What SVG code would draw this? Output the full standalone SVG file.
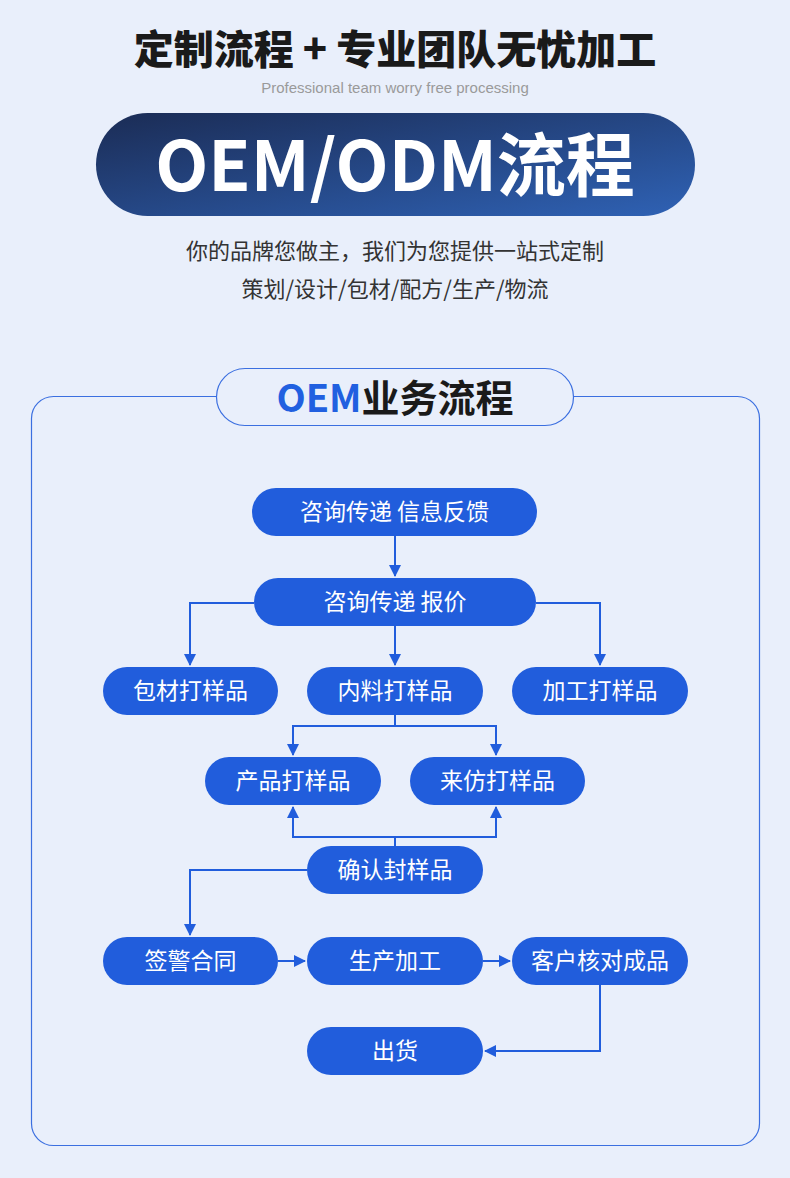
<svg xmlns="http://www.w3.org/2000/svg" width="790" height="1178" viewBox="0 0 790 1178">
<defs>
<linearGradient id="bannerGrad" x1="0" y1="0" x2="1" y2="1">
<stop offset="0" stop-color="#1b2c55"/>
<stop offset="1" stop-color="#2f62b5"/>
</linearGradient>
<marker id="arr" viewBox="0 0 12 12" refX="11" refY="6" markerWidth="12" markerHeight="12" markerUnits="userSpaceOnUse" orient="auto">
<path d="M0,0 L12,6 L0,12 Z" fill="#215ddc"/>
</marker>
<style>
.node rect{fill:#215ddc;}
.node text{fill:#ffffff;font-family:"Noto Sans CJK SC","Noto Sans",sans-serif;font-size:23px;text-anchor:middle;}
.conn{fill:none;stroke:#215ddc;stroke-width:2;}
.cjk{font-family:"Noto Sans CJK SC","Noto Sans",sans-serif;}
</style>
</defs>
<rect x="0" y="0" width="790" height="1178" fill="#e9effb"/>
<g id="header">
<text x="395" y="64" class="cjk" font-size="40" font-weight="900" fill="#1a1a1a" text-anchor="middle">定制流程 + 专业团队无忧加工</text>
<text x="395" y="93" font-family="'Liberation Sans',Arial,sans-serif" font-size="15" fill="#9a9a9a" text-anchor="middle">Professional team worry free processing</text>
<rect x="96" y="113" width="599" height="103" rx="51.5" fill="url(#bannerGrad)"/>
<text x="395" y="191" class="cjk" font-size="69" font-weight="bold" fill="#ffffff" text-anchor="middle">OEM/ODM流程</text>
<text x="395" y="259" class="cjk" font-size="22" fill="#333333" text-anchor="middle">你的品牌您做主，我们为您提供一站式定制</text>
<text x="395" y="297" class="cjk" font-size="22" fill="#333333" text-anchor="middle">策划/设计/包材/配方/生产/物流</text>
</g>
<g id="frame">
<rect x="31.5" y="396.5" width="728" height="749" rx="22" fill="none" stroke="#3b6fe0" stroke-width="1.2"/>
<rect x="216.5" y="368.5" width="357" height="57" rx="28.5" fill="#e9effb" stroke="#3b6fe0" stroke-width="1.2"/>
<text x="395" y="412" class="cjk" font-size="38" font-weight="bold" text-anchor="middle"><tspan fill="#2160e0">OEM</tspan><tspan fill="#1a1a1a">业务流程</tspan></text>
</g>
<g id="connectors">
<path class="conn" d="M395,536 V576" marker-end="url(#arr)"/>
<path class="conn" d="M254,603 H190 V665" marker-end="url(#arr)"/>
<path class="conn" d="M536,603 H600 V665" marker-end="url(#arr)"/>
<path class="conn" d="M395,626 V665" marker-end="url(#arr)"/>
<path class="conn" d="M395,715 V726 H293 V755" marker-end="url(#arr)"/>
<path class="conn" d="M395,726 H496 V755" marker-end="url(#arr)"/>
<path class="conn" d="M395,846 V837 H293 V807" marker-end="url(#arr)"/>
<path class="conn" d="M395,837 H496 V807" marker-end="url(#arr)"/>
<path class="conn" d="M307,870 H190 V935" marker-end="url(#arr)"/>
<path class="conn" d="M278,961 H305" marker-end="url(#arr)"/>
<path class="conn" d="M483,961 H510" marker-end="url(#arr)"/>
<path class="conn" d="M600,985 V1051 H485" marker-end="url(#arr)"/>
</g>
<g id="n1" class="node"><rect x="252" y="488" width="285" height="48" rx="24"/><text x="394.5" y="520">咨询传递 信息反馈</text></g>
<g id="n2" class="node"><rect x="254" y="578" width="282" height="48" rx="24"/><text x="395" y="610">咨询传递 报价</text></g>
<g id="n3" class="node"><rect x="103" y="667" width="175" height="48" rx="24"/><text x="190.5" y="699">包材打样品</text></g>
<g id="n4" class="node"><rect x="307" y="667" width="176" height="48" rx="24"/><text x="395" y="699">内料打样品</text></g>
<g id="n5" class="node"><rect x="512" y="667" width="176" height="48" rx="24"/><text x="600" y="699">加工打样品</text></g>
<g id="n6" class="node"><rect x="205" y="757" width="176" height="48" rx="24"/><text x="293" y="789">产品打样品</text></g>
<g id="n7" class="node"><rect x="410" y="757" width="175" height="48" rx="24"/><text x="497.5" y="789">来仿打样品</text></g>
<g id="n8" class="node"><rect x="307" y="846" width="176" height="48" rx="24"/><text x="395" y="878">确认封样品</text></g>
<g id="n9" class="node"><rect x="103" y="937" width="175" height="48" rx="24"/><text x="190.5" y="969">签警合同</text></g>
<g id="n10" class="node"><rect x="307" y="937" width="176" height="48" rx="24"/><text x="395" y="969">生产加工</text></g>
<g id="n11" class="node"><rect x="512" y="937" width="176" height="48" rx="24"/><text x="600" y="969">客户核对成品</text></g>
<g id="n12" class="node"><rect x="307" y="1027" width="176" height="48" rx="24"/><text x="395" y="1059">出货</text></g>
</svg>
